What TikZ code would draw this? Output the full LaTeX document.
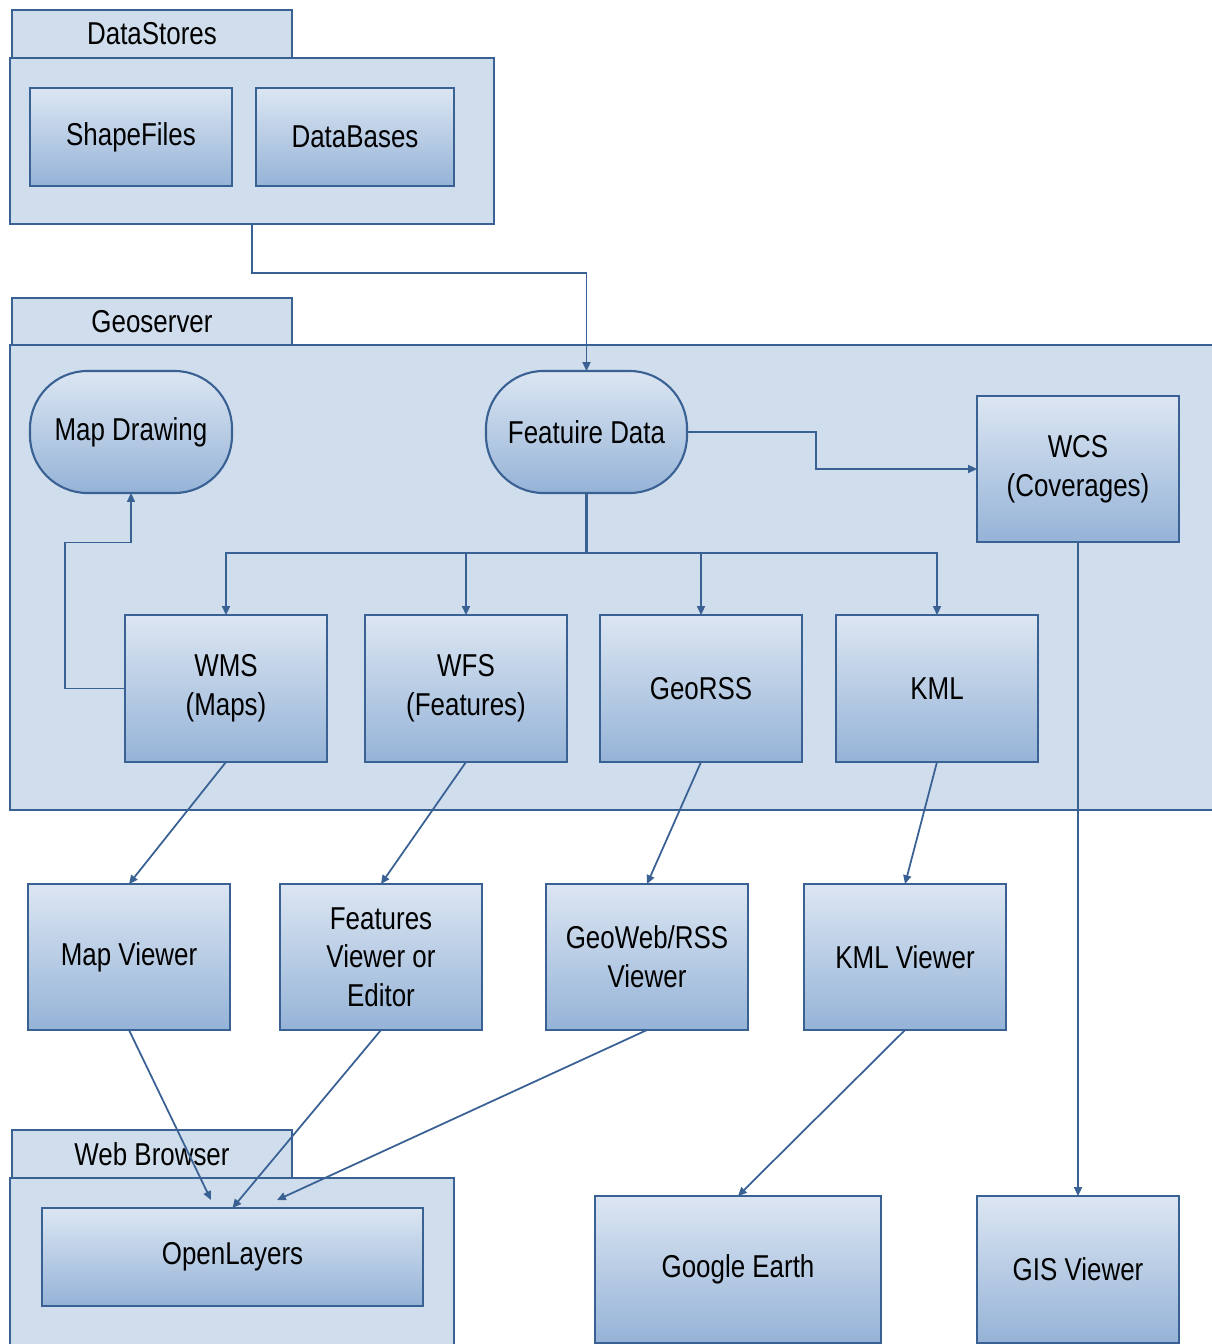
\documentclass[tikz,border=0pt]{standalone}
\usepackage{fontspec}
\setmainfont{Liberation Sans}[FakeStretch=0.82]
\usetikzlibrary{arrows.meta}
\definecolor{bord}{HTML}{3A6194}
\definecolor{contfill}{HTML}{CFDDEC}
\definecolor{gtop}{HTML}{DCE6F2}
\definecolor{gbot}{HTML}{95B3D7}
\begin{document}
\begin{tikzpicture}[x=0.02cm,y=-0.02cm,
  rect/.style n args={4}{at={({(#1+#3)/2},{(#2+#4)/2})},
    minimum width={(#3-#1)*0.02cm}, minimum height={(#4-#2)*0.02cm}},
  frame/.style={draw=bord, fill=contfill, line width=1.1pt, inner sep=0pt, outer sep=0pt,
    font=\fontsize{18}{22}\selectfont},
  box/.style={draw=bord, top color=gtop, bottom color=gbot, line width=1.2pt, inner sep=0pt,
    outer sep=0pt, align=center, font=\fontsize{18}{22}\selectfont},
  pill/.style={box, rounded corners=1.15cm},
  wire/.style={draw=bord, line width=1pt},
  conn/.style={wire, -{Triangle[length=5pt,width=4.5pt]}}
]
\useasboundingbox (0,0) rectangle (1211,1344);
\fill[white] (0,0) rectangle (1211,1344);

% DataStores
\node[frame, rect={12}{10}{292}{58}] (dstab) {DataStores};
\node[frame, rect={10}{58}{494}{224}] (ds) {};
\node[box, rect={30}{88}{232}{186}] (sf) {ShapeFiles};
\node[box, rect={256}{88}{454}{186}] (db) {DataBases};

% Geoserver
\node[frame, rect={12}{298}{292}{346}] (gstab) {Geoserver};
\node[frame, rect={10}{345}{1216}{810}] (gs) {};
\node[pill, rect={30}{371}{232}{493}] (md) {Map Drawing};
\node[pill, rect={486}{371}{687}{493}] (fd) {Featuire Data};
\node[box, rect={977}{396}{1179}{542}] (wcs) {WCS\\(Coverages)};
\node[box, rect={125}{615}{327}{762}] (wms) {WMS\\(Maps)};
\node[box, rect={365}{615}{567}{762}] (wfs) {WFS\\(Features)};
\node[box, rect={600}{615}{802}{762}] (rss) {GeoRSS};
\node[box, rect={836}{615}{1038}{762}] (kml) {KML};

% Viewers
\node[box, rect={28}{884}{230}{1030}] (mv) {Map Viewer};
\node[box, rect={280}{884}{482}{1030}] (fv) {Features\\Viewer or\\Editor};
\node[box, rect={546}{884}{748}{1030}] (gv) {GeoWeb/RSS\\Viewer};
\node[box, rect={804}{884}{1006}{1030}] (kv) {KML Viewer};

% Web Browser
\node[frame, rect={12}{1130}{292}{1178}] (wbtab) {Web Browser};
\node[frame, rect={10}{1178}{454}{1360}] (wb) {};
\node[box, rect={42}{1208}{423}{1306}] (ol) {OpenLayers};
\node[box, rect={595}{1196}{881}{1343}] (ge) {Google Earth};
\node[box, rect={977}{1196}{1179}{1343}] (gis) {GIS Viewer};

\coordinate (olA) at (211,1200);
\coordinate (olB) at (277,1200);

% connectors
\draw[conn] (ds.south) -- ++(0,49) -| (fd.north);
\draw[conn] (fd.east) -- ++(129,0) |- (wcs.west);
\draw[wire, line width=1.3pt] (fd.south) -- ++(0,60) coordinate (bus);
\draw[conn] (bus) -| (wms.north);
\draw[conn] (bus) -| (wfs.north);
\draw[conn] (bus) -| (rss.north);
\draw[conn] (bus) -| (kml.north);
\draw[conn] (wms.west) -- ++(-60,0) -- ++(0,-146) -| (md.south);

\draw[conn] (wms.south) -- (mv.north);
\draw[conn] (wfs.south) -- (fv.north);
\draw[conn] (rss.south) -- (gv.north);
\draw[conn] (kml.south) -- (kv.north);
\draw[conn] (wcs.south) -- (gis.north);

\draw[conn] (mv.south) -- (olA);
\draw[conn] (fv.south) -- (ol.north);
\draw[conn] (gv.south) -- (olB);
\draw[conn] (kv.south) -- (ge.north);
\end{tikzpicture}
\end{document}
